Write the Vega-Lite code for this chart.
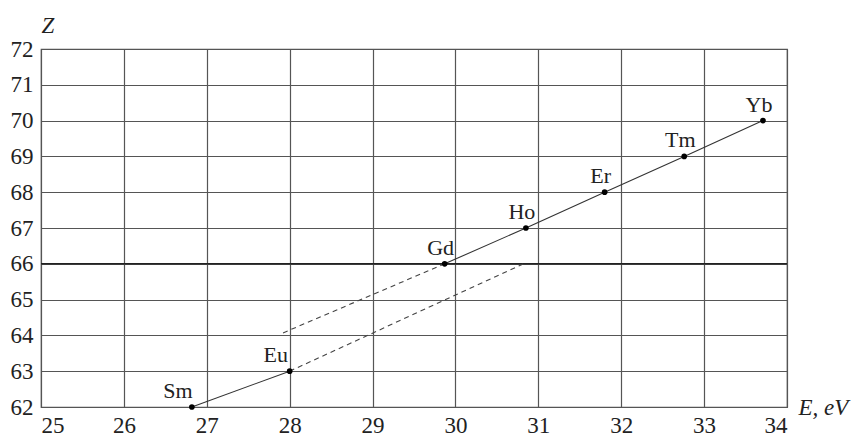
{
  "$schema": "https://vega.github.io/schema/vega-lite/v6.json",
  "width": 746,
  "height": 358,
  "autosize": {"type": "none"},
  "padding": {"left": 41, "top": 49, "right": 73, "bottom": 29},
  "background": "white",
  "config": {
    "font": "Liberation Serif",
    "view": {"stroke": "#555555", "strokeWidth": 1.2},
    "axis": {
      "grid": true,
      "gridColor": "#555555",
      "gridWidth": 1.2,
      "gridOpacity": 1,
      "domain": false,
      "ticks": false,
      "labelFont": "Liberation Serif",
      "labelFontSize": 23,
      "labelColor": "#222222",
      "titleFont": "Liberation Serif",
      "titleFontStyle": "italic",
      "titleFontWeight": "normal",
      "titleFontSize": 23,
      "titleColor": "#222222"
    }
  },
  "datasets": {
    "elements": [
      {"el": "Sm", "E": 26.82, "Z": 62, "group": "low"},
      {"el": "Eu", "E": 28.0, "Z": 63, "group": "low"},
      {"el": "Gd", "E": 29.87, "Z": 66, "group": "high"},
      {"el": "Ho", "E": 30.85, "Z": 67, "group": "high"},
      {"el": "Er", "E": 31.8, "Z": 68, "group": "high"},
      {"el": "Tm", "E": 32.76, "Z": 69, "group": "high"},
      {"el": "Yb", "E": 33.71, "Z": 70, "group": "high"}
    ],
    "extrapolated": [
      {"branch": "upper", "E": 27.92, "Z": 64.07},
      {"branch": "upper", "E": 29.87, "Z": 66},
      {"branch": "lower", "E": 28.0, "Z": 63},
      {"branch": "lower", "E": 30.84, "Z": 66.02}
    ]
  },
  "encoding": {
    "x": {
      "field": "E",
      "type": "quantitative",
      "scale": {"domain": [25, 34], "nice": false, "zero": false},
      "axis": {
        "values": [25, 26, 27, 28, 29, 30, 31, 32, 33, 34],
        "labelPadding": 7,
        "labelBaseline": "top",
        "title": "E, eV",
        "titleAngle": 0,
        "titleAlign": "left",
        "titleBaseline": "alphabetic",
        "titleX": 757,
        "titleY": 7
      }
    },
    "y": {
      "field": "Z",
      "type": "quantitative",
      "scale": {"domain": [62, 72], "nice": false, "zero": false},
      "axis": {
        "values": [62, 63, 64, 65, 66, 67, 68, 69, 70, 71, 72],
        "labelPadding": 8,
        "title": "Z",
        "titleAngle": 0,
        "titleAlign": "left",
        "titleBaseline": "alphabetic",
        "titleX": 0,
        "titleY": -17
      }
    }
  },
  "layer": [
    {
      "data": {"values": [{"Z": 66}]},
      "mark": {"type": "rule", "color": "#222222", "strokeWidth": 1.4},
      "encoding": {"x": {"value": 0}, "x2": {"value": 746}}
    },
    {
      "data": {"name": "extrapolated"},
      "mark": {"type": "line", "color": "#444444", "strokeWidth": 1.1, "strokeDash": [5, 4]},
      "encoding": {"detail": {"field": "branch"}}
    },
    {
      "data": {"name": "elements"},
      "mark": {"type": "line", "color": "#333333", "strokeWidth": 1.1},
      "encoding": {"detail": {"field": "group"}}
    },
    {
      "data": {"name": "elements"},
      "mark": {"type": "circle", "color": "#000000", "size": 32, "opacity": 1}
    },
    {
      "data": {"name": "elements"},
      "transform": [{"filter": "datum.group == 'low'"}],
      "mark": {"type": "text", "fontSize": 22, "color": "#222222", "align": "center", "baseline": "alphabetic", "dx": -14, "dy": -9},
      "encoding": {"text": {"field": "el"}}
    },
    {
      "data": {"name": "elements"},
      "transform": [{"filter": "datum.group == 'high'"}],
      "mark": {"type": "text", "fontSize": 22, "color": "#222222", "align": "center", "baseline": "alphabetic", "dx": -4, "dy": -9},
      "encoding": {"text": {"field": "el"}}
    }
  ]
}
